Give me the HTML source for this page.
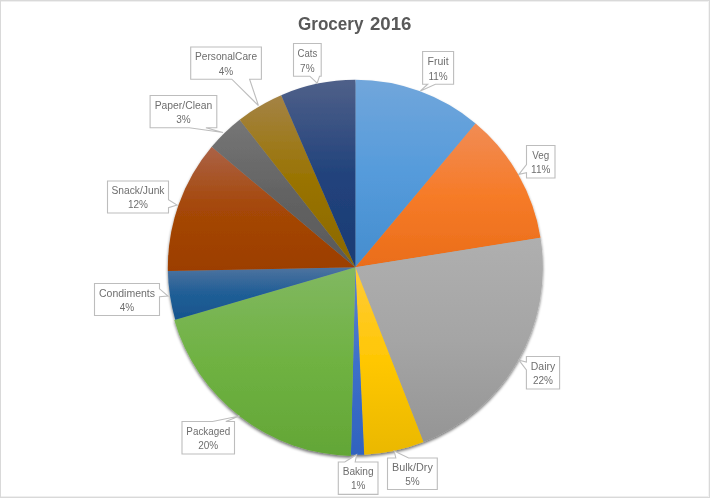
<!DOCTYPE html>
<html><head><meta charset="utf-8"><title>Grocery 2016</title>
<style>html,body{margin:0;padding:0;background:#fff}svg{display:block}</style></head>
<body>
<svg width="710" height="498" viewBox="0 0 710 498">
<defs>
<linearGradient id="g0" x1="0" y1="0" x2="0" y2="1"><stop offset="0" stop-color="#71A6DB"/><stop offset="0.5" stop-color="#559BDB"/><stop offset="1" stop-color="#458DCE"/></linearGradient>
<linearGradient id="g1" x1="0" y1="0" x2="0" y2="1"><stop offset="0" stop-color="#F18C55"/><stop offset="0.5" stop-color="#F67B28"/><stop offset="1" stop-color="#EA6D19"/></linearGradient>
<linearGradient id="g2" x1="0" y1="0" x2="0" y2="1"><stop offset="0" stop-color="#AFAFAF"/><stop offset="0.5" stop-color="#A5A5A5"/><stop offset="1" stop-color="#959595"/></linearGradient>
<linearGradient id="g3" x1="0" y1="0" x2="0" y2="1"><stop offset="0" stop-color="#FFCB3A"/><stop offset="0.5" stop-color="#FFC703"/><stop offset="1" stop-color="#EAB800"/></linearGradient>
<linearGradient id="g4" x1="0" y1="0" x2="0" y2="1"><stop offset="0" stop-color="#6083CB"/><stop offset="0.5" stop-color="#3E70CA"/><stop offset="1" stop-color="#3063BF"/></linearGradient>
<linearGradient id="g5" x1="0" y1="0" x2="0" y2="1"><stop offset="0" stop-color="#81B861"/><stop offset="0.5" stop-color="#6FB242"/><stop offset="1" stop-color="#63A636"/></linearGradient>
<linearGradient id="g6" x1="0" y1="0" x2="0" y2="1"><stop offset="0" stop-color="#4E739F"/><stop offset="0.5" stop-color="#205E96"/><stop offset="1" stop-color="#17558D"/></linearGradient>
<linearGradient id="g7" x1="0" y1="0" x2="0" y2="1"><stop offset="0" stop-color="#AB6247"/><stop offset="0.5" stop-color="#A54707"/><stop offset="1" stop-color="#9C3E00"/></linearGradient>
<linearGradient id="g8" x1="0" y1="0" x2="0" y2="1"><stop offset="0" stop-color="#767676"/><stop offset="0.5" stop-color="#636363"/><stop offset="1" stop-color="#595959"/></linearGradient>
<linearGradient id="g9" x1="0" y1="0" x2="0" y2="1"><stop offset="0" stop-color="#A48345"/><stop offset="0.5" stop-color="#997300"/><stop offset="1" stop-color="#8A6800"/></linearGradient>
<linearGradient id="g10" x1="0" y1="0" x2="0" y2="1"><stop offset="0" stop-color="#4F6089"/><stop offset="0.5" stop-color="#22437C"/><stop offset="1" stop-color="#1A3B74"/></linearGradient>
<filter id="sh" x="-5%" y="-5%" width="110%" height="110%"><feGaussianBlur in="SourceAlpha" stdDeviation="1.5"/><feOffset dy="1.5"/><feComponentTransfer><feFuncA type="linear" slope="0.55"/></feComponentTransfer><feMerge><feMergeNode/><feMergeNode in="SourceGraphic"/></feMerge></filter>
</defs>
<rect x="0" y="0" width="710" height="498" fill="#fff"/>
<rect x="0.5" y="0.5" width="709" height="497" fill="none" stroke="#D9D9D9" stroke-width="1"/>
<path d="M1,1.5 H709 M1,496.5 H709" stroke="#EFEFEF" stroke-width="1" fill="none"/>
<path d="M708.5,1 V497" stroke="#F4F4F4" stroke-width="1" fill="none"/>
<text y="30.4" font-family="'Liberation Sans', sans-serif" font-weight="bold" font-size="18.8" fill="#595959"><tspan x="298" textLength="65.5" lengthAdjust="spacingAndGlyphs">Grocery</tspan> <tspan x="370" textLength="41.4" lengthAdjust="spacingAndGlyphs">2016</tspan></text>
<g filter="url(#sh)">
<path d="M355.35,267.35 L355.35,79.85 A187.5,187.5 0 0 1 475.62,123.51 Z" fill="url(#g0)"/>
<path d="M355.35,267.35 L475.62,123.51 A187.5,187.5 0 0 1 540.49,237.70 Z" fill="url(#g1)"/>
<path d="M355.35,267.35 L540.49,237.70 A187.5,187.5 0 0 1 423.46,442.04 Z" fill="url(#g2)"/>
<path d="M355.35,267.35 L423.46,442.04 A187.5,187.5 0 0 1 364.18,454.64 Z" fill="url(#g3)"/>
<path d="M355.35,267.35 L364.18,454.64 A187.5,187.5 0 0 1 350.93,454.80 Z" fill="url(#g4)"/>
<path d="M355.35,267.35 L350.91,455.90 A188.6,188.6 0 0 1 174.24,319.97 Z" fill="url(#g5)"/>
<path d="M355.35,267.35 L175.29,319.66 A187.5,187.5 0 0 1 167.89,271.11 Z" fill="url(#g6)"/>
<path d="M355.35,267.35 L167.89,271.11 A187.5,187.5 0 0 1 211.72,146.83 Z" fill="url(#g7)"/>
<path d="M355.35,267.35 L211.72,146.83 A187.5,187.5 0 0 1 239.66,119.80 Z" fill="url(#g8)"/>
<path d="M355.35,267.35 L239.66,119.80 A187.5,187.5 0 0 1 281.19,95.14 Z" fill="url(#g9)"/>
<path d="M355.35,267.35 L281.19,95.14 A187.5,187.5 0 0 1 355.35,79.85 Z" fill="url(#g10)"/>
</g>
<g font-family="'Liberation Sans', sans-serif" font-size="10" fill="#6E6E6E" text-anchor="middle">
<path d="M422.6,51.5 H453.6 V84.2 H435.4 L420.4,90.9 L427.7,84.2 H422.6 Z" fill="#fff" stroke="#BDBDBD" stroke-width="1.1" stroke-linejoin="miter"/>
<text x="438.10" y="65" textLength="21" lengthAdjust="spacingAndGlyphs">Fruit</text>
<text x="438.10" y="80">11%</text>
<path d="M526.5,145.5 H555 V178 H526.5 V172.6 L518.9,174.4 L526.5,164.5 Z" fill="#fff" stroke="#BDBDBD" stroke-width="1.1" stroke-linejoin="miter"/>
<text x="540.75" y="159" textLength="17" lengthAdjust="spacingAndGlyphs">Veg</text>
<text x="540.75" y="173">11%</text>
<path d="M526.4,356.5 H559.6 V389 H526.4 V370 L518.9,360.1 L526.4,362 Z" fill="#fff" stroke="#BDBDBD" stroke-width="1.1" stroke-linejoin="miter"/>
<text x="543.00" y="370" textLength="24.4" lengthAdjust="spacingAndGlyphs">Dairy</text>
<text x="543.00" y="384">22%</text>
<path d="M387.5,458 H395.8 L394.2,451 L408.6,458 H437.3 V489.5 H387.5 Z" fill="#fff" stroke="#BDBDBD" stroke-width="1.1" stroke-linejoin="miter"/>
<text x="412.40" y="471" textLength="40.8" lengthAdjust="spacingAndGlyphs">Bulk/Dry</text>
<text x="412.40" y="485">5%</text>
<path d="M338.3,462 H344.8 L356.6,454.7 L355.2,462 H378 V494.4 H338.3 Z" fill="#fff" stroke="#BDBDBD" stroke-width="1.1" stroke-linejoin="miter"/>
<text x="358.15" y="475" textLength="31" lengthAdjust="spacingAndGlyphs">Baking</text>
<text x="358.15" y="489">1%</text>
<path d="M182,421.5 H212.6 L239.4,416.0 L225.8,421.5 H234.5 V454 H182 Z" fill="#fff" stroke="#BDBDBD" stroke-width="1.1" stroke-linejoin="miter"/>
<text x="208.25" y="435" textLength="43.8" lengthAdjust="spacingAndGlyphs">Packaged</text>
<text x="208.25" y="449">20%</text>
<path d="M94.5,283.5 H159.5 V288.8 L168,296 L159.5,296.8 V315.5 H94.5 Z" fill="#fff" stroke="#BDBDBD" stroke-width="1.1" stroke-linejoin="miter"/>
<text x="127.00" y="297" textLength="56" lengthAdjust="spacingAndGlyphs">Condiments</text>
<text x="127.00" y="311">4%</text>
<path d="M107.5,181 H168.5 V199.7 L177,205 L168.5,207.7 V213 H107.5 Z" fill="#fff" stroke="#BDBDBD" stroke-width="1.1" stroke-linejoin="miter"/>
<text x="138.00" y="194" textLength="53" lengthAdjust="spacingAndGlyphs">Snack/Junk</text>
<text x="138.00" y="208">12%</text>
<path d="M150.1,95.5 H216.8 V127.7 H205.9 L223,132.5 L189.2,127.7 H150.1 Z" fill="#fff" stroke="#BDBDBD" stroke-width="1.1" stroke-linejoin="miter"/>
<text x="183.45" y="109" textLength="57.5" lengthAdjust="spacingAndGlyphs">Paper/Clean</text>
<text x="183.45" y="123">3%</text>
<path d="M190.7,47 H261.4 V79.2 H249.6 L258.4,105.5 L231.8,79.2 H190.7 Z" fill="#fff" stroke="#BDBDBD" stroke-width="1.1" stroke-linejoin="miter"/>
<text x="226.05" y="60" textLength="62" lengthAdjust="spacingAndGlyphs">PersonalCare</text>
<text x="226.05" y="75">4%</text>
<path d="M293.5,43.5 H321.2 V76.2 H319.5 L317.2,83.2 L309.8,76.2 H293.5 Z" fill="#fff" stroke="#BDBDBD" stroke-width="1.1" stroke-linejoin="miter"/>
<text x="307.35" y="57" textLength="19.7" lengthAdjust="spacingAndGlyphs">Cats</text>
<text x="307.35" y="72">7%</text>
</g>
</svg>
</body></html>
